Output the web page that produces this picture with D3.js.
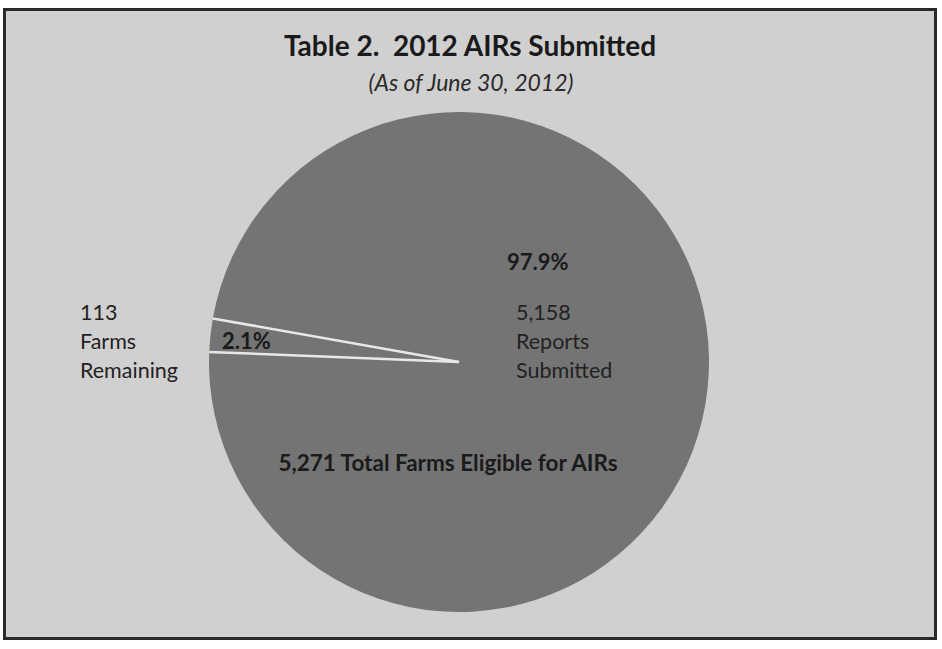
<!DOCTYPE html>
<html><head><meta charset="utf-8">
<script src="https://cdn.jsdelivr.net/npm/d3@7"></script>
<style>html,body{margin:0;padding:0;background:#fff;}svg{display:block;} text{white-space:pre;}</style>
</head><body>
<svg id="chart" width="942" height="649"></svg>
<script>
const categories = ["Farms Remaining", "Reports Submitted"];
const values = [113, 5158];
const percentLabels = ["2.1%", "97.9%"];
const countLabels = [["113", "Farms", "Remaining"], ["5,158", "Reports", "Submitted"]];
const totalLabel = "5,271 Total Farms Eligible for AIRs";
const title = "Table 2.  2012 AIRs Submitted";
const subtitle = "(As of June 30, 2012)";

const svg = d3.select("#chart");
const font = "Lato, 'Open Sans', sans-serif";

svg.append("rect").attr("x", 4.5).attr("y", 9.5).attr("width", 931).attr("height", 629)
  .attr("fill", "#d0d0d0").attr("stroke", "#2a2a2a").attr("stroke-width", 3);

svg.append("text").attr("x", 470).attr("y", 56).attr("text-anchor", "middle")
  .attr("font-family", font).attr("font-weight", "bold").attr("font-size", 28)
  .attr("fill", "#1a1a1a").text(title);
svg.append("text").attr("x", 471).attr("y", 91).attr("text-anchor", "middle")
  .attr("font-family", font).attr("font-style", "italic").attr("font-size", 23)
  .attr("fill", "#2a2a2a").text(subtitle);

const cx = 459, cy = 362, r = 250;
const startDeg = 272.3;
const pie = d3.pie().sort(null)
  .startAngle(startDeg * Math.PI / 180)
  .endAngle(startDeg * Math.PI / 180 + 2 * Math.PI);
const arcs = pie(values);
const arc = d3.arc().innerRadius(0).outerRadius(r);

const g = svg.append("g").attr("transform", `translate(${cx},${cy})`);
g.selectAll("path").data(arcs).join("path")
  .attr("d", arc)
  .attr("fill", "#747474");

// white separators along the small slice's radial edges
const edgeAngles = [arcs[0].startAngle, arcs[0].endAngle];
g.selectAll("line.sep").data(edgeAngles).join("line").attr("class", "sep")
  .attr("x1", 0).attr("y1", 0)
  .attr("x2", a => r * Math.sin(a)).attr("y2", a => -r * Math.cos(a))
  .attr("stroke", "#e8e8e8").attr("stroke-width", 2.5);

// percent labels
const pctPos = [[222, 349], [507, 270]];
svg.selectAll("text.pct").data(percentLabels).join("text").attr("class", "pct")
  .attr("x", (d, i) => pctPos[i][0]).attr("y", (d, i) => pctPos[i][1])
  .attr("font-family", font).attr("font-weight", "bold").attr("font-size", 22)
  .attr("fill", "#1a1a1a").text(d => d);

const cntPos = [[80, 320], [516, 320]];
countLabels.forEach((lines, i) => {
  const t = svg.append("text").attr("font-family", font).attr("font-size", 21.5)
    .attr("fill", "#222");
  lines.forEach((ln, j) => {
    t.append("tspan").attr("x", cntPos[i][0]).attr("y", cntPos[i][1] + j * 29).text(ln);
  });
});

svg.append("text").attr("x", 448).attr("y", 471).attr("text-anchor", "middle")
  .attr("font-family", font).attr("font-weight", "bold").attr("font-size", 22.5)
  .attr("fill", "#1a1a1a").text(totalLabel);
</script>
</body></html>
